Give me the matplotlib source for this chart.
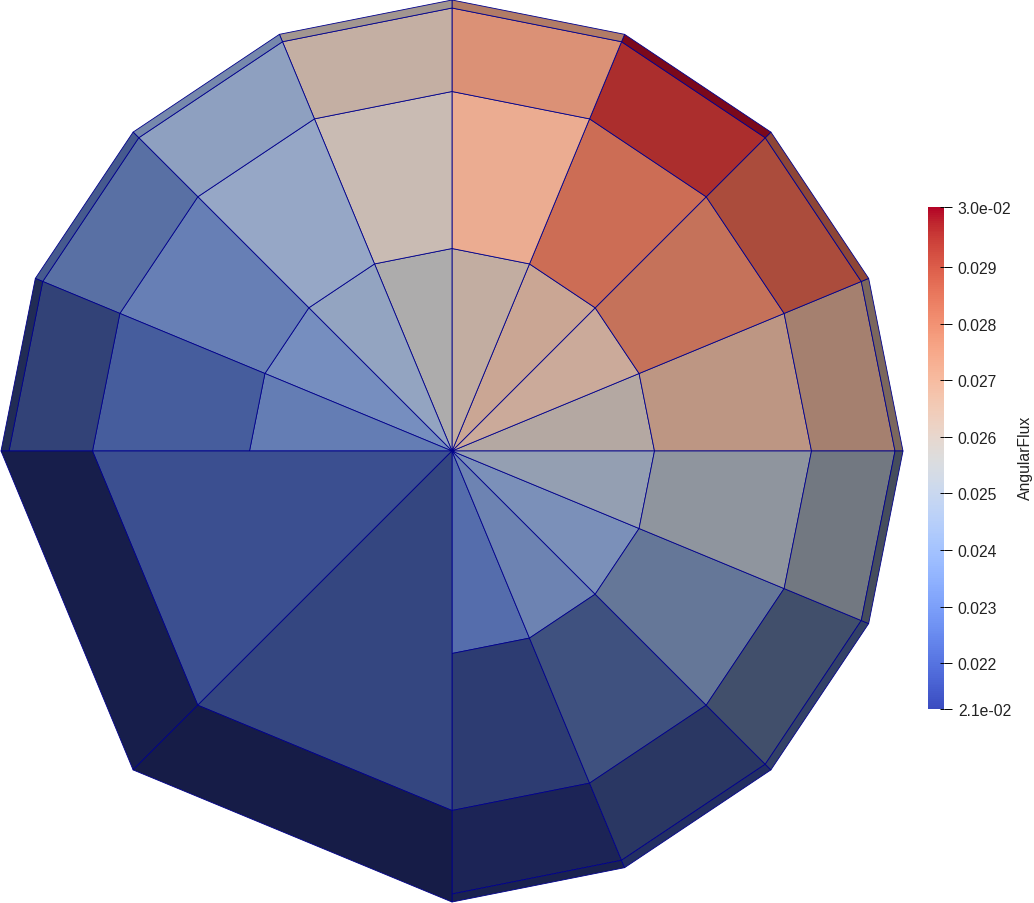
import numpy as np
import matplotlib
matplotlib.use("Agg")
import matplotlib.pyplot as plt
from matplotlib.collections import PolyCollection
from matplotlib.cm import ScalarMappable
from matplotlib.colors import Normalize

plt.rcParams['font.family'] = ['Liberation Sans', 'DejaVu Sans']

# mesh layout: 16 sectors of 22.5 deg, counted counter clockwise from east
radii = [0, 202.5, 359.5, 443, 451]
split_sectors = [0, 1, 2, 3, 4, 5, 6, 7, 12, 13, 14, 15]

# AngularFlux per cell, one list per ring, in the order of split_sectors
flux_inner = [0.02595, 0.02650, 0.02660, 0.02620, 0.02563, 0.02465,
              0.02385, 0.02341, 0.02296, 0.02376, 0.02412, 0.02495]
flux_middle = [0.02680, 0.02815, 0.02840, 0.02715, 0.02600, 0.02460,
               0.02354, 0.02261, 0.02210, 0.02296, 0.02412, 0.02527]
flux_outer = [0.02690, 0.02890, 0.02960, 0.02760, 0.02620, 0.02452,
              0.02332, 0.02230, 0.02137, 0.02234, 0.02376, 0.02518]
flux_rim = [0.02651, 0.02864, 0.02997, 0.02740, 0.02598, 0.02421,
            0.02296, 0.02200, 0.02140, 0.02181, 0.02296, 0.02456]

# the coarse cells of the lower left quarter (sectors 8-9 and 10-11)
flux_big = [0.02225, 0.02225]
flux_big_outer = [0.02119, 0.02119]

# lighting of the 3D render, per cell
shade_inner = [.78, .84, .83, .82, .78, .78, .75, .71, .69, .70, .73, .74]
shade_middle = [.77, .82, .87, .95, .87, .80, .71, .65, .50, .51, .60, .68]
shade_outer = [.67, .77, .86, .89, .83, .77, .65, .51, .43, .42, .42, .55]
shade_rim = [.51, .62, .67, .72, .70, .68, .57, .38, .39, .45, .41, .37]
shade_big = [.62, .55]
shade_big_outer = [.39, .37]

flux_min, flux_max = 0.02119, 0.03006
bar_ticks = [0.022, 0.023, 0.024, 0.025, 0.026, 0.027, 0.028, 0.029]
bar_labels = ['0.022', '0.023', '0.024', '0.025', '0.026', '0.027', '0.028', '0.029']

W, H = 1034, 904
cx, cy = 452, 452
edge = '#00008b'
cmap = plt.get_cmap('coolwarm')
norm = Normalize(flux_min, flux_max)


def pt(r, k):
    a = np.deg2rad(22.5 * k)
    return (cx + r * np.cos(a), cy - r * np.sin(a))


def cell(r0, r1, k0, k1):
    return [pt(r0, k0), pt(r1, k0), pt(r1, k1), pt(r0, k1)]


def shaded(value, s):
    rgb = np.array(cmap(norm(value))[:3]) * s
    return tuple(rgb)


fig = plt.figure(figsize=(W / 100, H / 100), dpi=100)
ax = fig.add_axes([0, 0, 1, 1])
ax.set_xlim(0, W)
ax.set_ylim(H, 0)
ax.axis('off')

polys = []
faces = []
rings = [(flux_inner, shade_inner), (flux_middle, shade_middle),
         (flux_outer, shade_outer), (flux_rim, shade_rim)]
for i, (vals, shades) in enumerate(rings):
    for k, v, s in zip(split_sectors, vals, shades):
        polys.append(cell(radii[i], radii[i + 1], k, k + 1))
        faces.append(shaded(v, s))

for j, k in enumerate([8, 10]):
    polys.append(cell(0, radii[2], k, k + 2))
    faces.append(shaded(flux_big[j], shade_big[j]))
    polys.append(cell(radii[2], radii[4], k, k + 2))
    faces.append(shaded(flux_big_outer[j], shade_big_outer[j]))

ax.add_collection(PolyCollection(polys, facecolors=faces, edgecolors=edge,
                                 linewidths=0.6, antialiaseds=True))

# colour bar, placed by pixels
cax = fig.add_axes([928 / W, 1 - 710 / H, 16 / W, 502 / H])
fig.colorbar(ScalarMappable(norm=norm, cmap=cmap), cax=cax)
cax.set_frame_on(False)
for sp in cax.spines.values():
    sp.set_visible(False)
all_ticks = [flux_min] + bar_ticks + [flux_max]
cax.set_yticks(all_ticks)
cax.set_yticklabels(['2.1e-02'] + bar_labels + ['3.0e-02'])
cax.minorticks_off()
cax.tick_params(axis='y', length=5.76, width=0.7, pad=4.2, labelsize=11.3,
                colors='black', labelcolor='#222222')
cax.hlines(all_ticks, 0.75, 1, transform=cax.get_yaxis_transform(),
           color='black', lw=0.7, clip_on=False)

fig.text(1025 / W, 1 - 458 / H, 'AngularFlux', rotation=90, ha='center', va='center',
         fontsize=11.3, color='#222222')

plt.savefig('out.png', dpi=100)
